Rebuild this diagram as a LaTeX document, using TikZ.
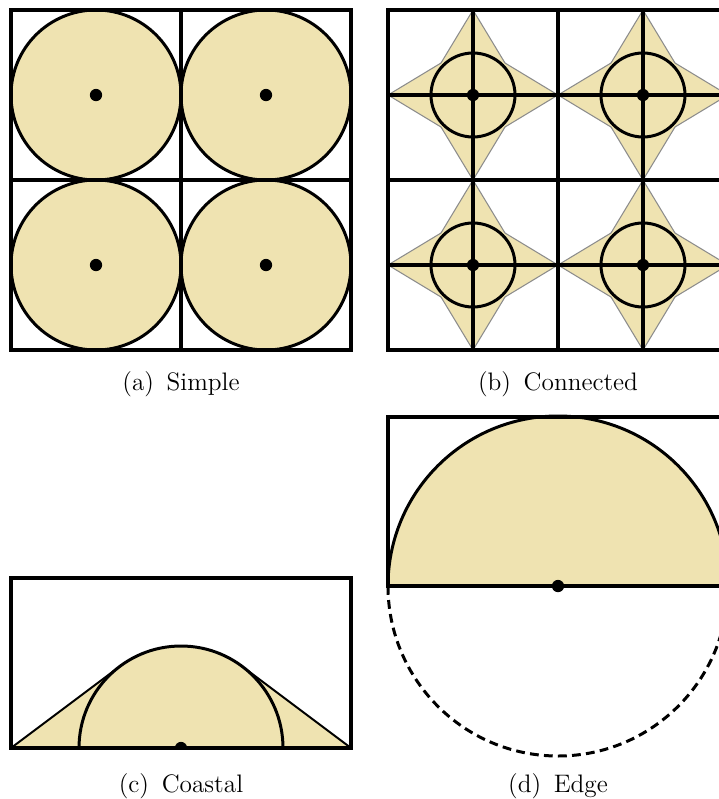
\documentclass[tikz,border=0pt]{standalone}
\usetikzlibrary{calc}
\definecolor{sandfill}{HTML}{EFE3B1}
\tikzset{
  frame/.style={draw=black, line width=1.9pt},
  gridline/.style={draw=black, line width=1.8pt},
  disc/.style={draw=black, line width=1.7pt, fill=sandfill},
  ring/.style={draw=black, line width=1.7pt},
  slope/.style={draw=black, line width=1.1pt},
  starfill/.style={fill=sandfill, draw=black!45, line width=0.6pt},
  centre/.style={circle, fill=black, inner sep=0pt, minimum size=7pt},
  caption/.style={font=\Large, anchor=center, inner sep=0pt},
}

\begin{document}
\begin{tikzpicture}[x=0.02cm, y=-0.02cm]
  \useasboundingbox (0,0) rectangle (719,799);
  \clip (0,0) rectangle (719,799);

  % (a) simple
  \foreach \i in {0,1}
    \foreach \j in {0,1}
      \draw[disc] (96+170*\i,95+170*\j) circle (85);
  \draw[frame] (11,10) rectangle (351,350);
  \draw[gridline] (181,10) -- (181,350) (11,180) -- (351,180);
  \foreach \i in {0,1}
    \foreach \j in {0,1}
      \node[centre] (a\i\j) at (96+170*\i,95+170*\j) {};
  \node[caption] (capa) at (181,384) {(a)\enspace Simple};

  % (b) connected
  \foreach \cx in {473,643}
    \foreach \cy in {95,265}
      \draw[starfill] (\cx-85,\cy) -- (\cx-32,\cy-32) -- (\cx,\cy-85) -- (\cx+32,\cy-32)
        -- (\cx+85,\cy) -- (\cx+32,\cy+32) -- (\cx,\cy+85) -- (\cx-32,\cy+32) -- cycle;
  \draw[frame] (388,10) rectangle (728,350);
  \draw[gridline] (558,10) -- (558,350) (388,180) -- (728,180);
  \draw[gridline] (473,10) -- (473,350) (643,10) -- (643,350);
  \draw[gridline] (388,95) -- (728,95) (388,265) -- (728,265);
  \foreach \cx in {473,643}
    \foreach \cy in {95,265} {
      \draw[ring] (\cx,\cy) circle (42);
      \node[centre] (b\cx\cy) at (\cx,\cy) {};
    }
  \node[caption] (capb) at (558,384) {(b)\enspace Connected};

  % (c) coastal
  \coordinate (cc) at (181,748);
  \coordinate (cl) at (11,748);
  \coordinate (cr) at (351,748);
  \coordinate (tl) at ($(cc)+(232.9:102)$);
  \coordinate (tr) at ($(cc)+(307.1:102)$);
  \fill[sandfill] (cl) -- (tl) arc[start angle=232.9, end angle=307.1, radius=102] -- (cr) -- cycle;
  \draw[slope] (cl) -- (tl);
  \draw[slope] (cr) -- (tr);
  \draw[ring] (79,748) arc[start angle=180, end angle=360, radius=102];
  \begin{scope}
    \clip (11,578) rectangle (351,748);
    \node[centre] (cdot) at (cc) {};
  \end{scope}
  \draw[frame] (11,578) rectangle (351,748);
  \node[caption] (capc) at (181,786) {(c)\enspace Coastal};

  % (d) edge
  \coordinate (dc) at (558,586);
  \fill[sandfill] (388,586) arc[start angle=180, end angle=360, radius=170] -- cycle;
  \draw[ring] (388,586) arc[start angle=180, end angle=360, radius=170];
  \draw[ring, dash pattern=on 5pt off 3pt] (388,586) arc[start angle=180, end angle=0, radius=170];
  \draw[frame] (388,417) rectangle (728,586);
  \node[centre] (ddot) at (dc) {};
  \node[caption] (capd) at (558,786) {(d)\enspace Edge};
\end{tikzpicture}
\end{document}
